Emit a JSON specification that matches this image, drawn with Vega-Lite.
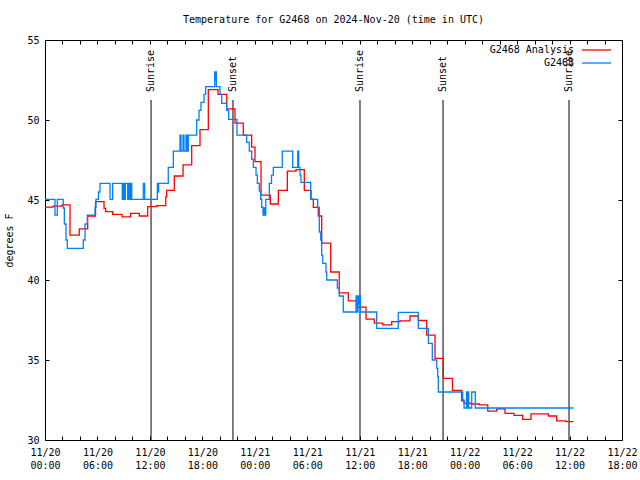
{
  "$schema": "https://vega.github.io/schema/vega-lite/v6.json",
  "width": 577,
  "height": 400,
  "autosize": "none",
  "padding": {"left": 45, "top": 40, "right": 18, "bottom": 40},
  "background": "white",
  "title": {"text": "Temperature for G2468 on 2024-Nov-20 (time in UTC)", "font": "DejaVu Sans Mono", "fontSize": 10, "fontWeight": "normal", "color": "black", "anchor": "middle", "offset": 10},
  "config": {
    "view": {"stroke": "black", "strokeWidth": 1},
    "axis": {"domain": false, "grid": false, "labelFont": "DejaVu Sans Mono", "labelFontSize": 10, "labelColor": "black", "tickColor": "black", "tickWidth": 1, "titleFont": "DejaVu Sans Mono", "titleFontSize": 10, "titleFontWeight": "normal", "titleColor": "black"}
  },
  "datasets": {
    "sun": [
      {"h": 12.13, "label": "Sunrise"},
      {"h": 21.5, "label": "Sunset"},
      {"h": 36.03, "label": "Sunrise"},
      {"h": 45.53, "label": "Sunset"},
      {"h": 59.94, "label": "Sunrise"}
    ],
    "analysis": [
      {"h": 0, "T": 44.55}, {"h": 0.92, "T": 44.62}, {"h": 1.94, "T": 44.7}, {"h": 2.86, "T": 42.8}, {"h": 3.92, "T": 43.2},
      {"h": 4.88, "T": 44.0}, {"h": 5.78, "T": 44.9}, {"h": 6.75, "T": 44.48}, {"h": 6.94, "T": 44.27}, {"h": 7.74, "T": 44.1},
      {"h": 8.81, "T": 43.95}, {"h": 9.8, "T": 44.17}, {"h": 10.79, "T": 44.0}, {"h": 11.75, "T": 44.58}, {"h": 12.78, "T": 44.65},
      {"h": 13.81, "T": 45.2}, {"h": 13.92, "T": 45.6}, {"h": 14.79, "T": 46.5}, {"h": 15.79, "T": 47.2}, {"h": 16.78, "T": 48.4},
      {"h": 17.73, "T": 49.4}, {"h": 18.68, "T": 51.9}, {"h": 19.79, "T": 51.6}, {"h": 20.79, "T": 50.7}, {"h": 21.73, "T": 49.8},
      {"h": 22.68, "T": 49.06}, {"h": 23.64, "T": 48.3}, {"h": 24.02, "T": 47.4}, {"h": 24.71, "T": 45.3}, {"h": 25.77, "T": 44.75},
      {"h": 26.69, "T": 45.6}, {"h": 27.72, "T": 46.8}, {"h": 28.71, "T": 46.9}, {"h": 29.66, "T": 45.6}, {"h": 30.43, "T": 45.06},
      {"h": 30.69, "T": 44.54}, {"h": 31.26, "T": 44.0}, {"h": 31.65, "T": 42.3}, {"h": 32.68, "T": 40.5}, {"h": 33.66, "T": 39.2},
      {"h": 34.69, "T": 38.7}, {"h": 35.63, "T": 38.3}, {"h": 36.72, "T": 37.55}, {"h": 37.67, "T": 37.3}, {"h": 38.63, "T": 37.2},
      {"h": 39.66, "T": 37.4}, {"h": 40.61, "T": 37.45}, {"h": 41.75, "T": 37.75}, {"h": 42.7, "T": 37.47}, {"h": 43.66, "T": 36.56},
      {"h": 44.61, "T": 35.1}, {"h": 45.56, "T": 33.85}, {"h": 46.61, "T": 33.1}, {"h": 47.66, "T": 32.45}, {"h": 47.93, "T": 32.3},
      {"h": 48.73, "T": 32.25}, {"h": 49.68, "T": 32.2}, {"h": 50.64, "T": 31.8}, {"h": 51.67, "T": 31.95}, {"h": 52.62, "T": 31.67},
      {"h": 53.65, "T": 31.54}, {"h": 54.64, "T": 31.29}, {"h": 55.59, "T": 31.63}, {"h": 57.57, "T": 31.5}, {"h": 58.53, "T": 31.2},
      {"h": 59.6, "T": 31.15}, {"h": 60.43, "T": 31.15}
    ],
    "obs": [
      {"h": 0, "T": 45.04}, {"h": 1.14, "T": 44.06}, {"h": 1.41, "T": 45.04}, {"h": 2.09, "T": 44.5}, {"h": 2.21, "T": 43.5},
      {"h": 2.4, "T": 42.5}, {"h": 2.55, "T": 41.98}, {"h": 4.38, "T": 42.5}, {"h": 4.58, "T": 43.5}, {"h": 4.84, "T": 44.06},
      {"h": 5.72, "T": 44.54}, {"h": 5.83, "T": 45.04}, {"h": 6.12, "T": 45.5}, {"h": 6.29, "T": 46.04}, {"h": 7.44, "T": 45.04},
      {"h": 7.74, "T": 46.04}, {"h": 8.84, "T": 45.04}, {"h": 8.96, "T": 46.04}, {"h": 9.09, "T": 45.04}, {"h": 9.19, "T": 46.04},
      {"h": 9.46, "T": 45.04}, {"h": 9.57, "T": 46.04}, {"h": 9.72, "T": 45.04}, {"h": 9.84, "T": 46.04}, {"h": 9.92, "T": 45.04},
      {"h": 11.24, "T": 46.04}, {"h": 11.4, "T": 45.04}, {"h": 12.85, "T": 46.04}, {"h": 12.93, "T": 45.5}, {"h": 13.0, "T": 46.04},
      {"h": 14.1, "T": 47.04}, {"h": 14.68, "T": 48.06}, {"h": 15.44, "T": 49.06}, {"h": 15.56, "T": 48.06}, {"h": 15.79, "T": 49.06},
      {"h": 15.9, "T": 48.06}, {"h": 16.13, "T": 49.06}, {"h": 16.24, "T": 48.06}, {"h": 16.39, "T": 49.06}, {"h": 17.35, "T": 50.0},
      {"h": 17.62, "T": 50.6}, {"h": 17.84, "T": 51.1}, {"h": 18.19, "T": 51.6}, {"h": 18.38, "T": 52.08}, {"h": 19.41, "T": 53.0},
      {"h": 19.48, "T": 52.5}, {"h": 19.53, "T": 53.0}, {"h": 19.6, "T": 52.08}, {"h": 20.02, "T": 51.6}, {"h": 20.21, "T": 51.04},
      {"h": 20.78, "T": 50.6}, {"h": 21.01, "T": 50.04}, {"h": 21.96, "T": 49.06}, {"h": 23.07, "T": 48.6}, {"h": 23.37, "T": 48.06},
      {"h": 23.64, "T": 47.55}, {"h": 23.83, "T": 47.04}, {"h": 24.14, "T": 46.56}, {"h": 24.29, "T": 46.04}, {"h": 24.51, "T": 45.56},
      {"h": 24.67, "T": 45.04}, {"h": 24.79, "T": 44.54}, {"h": 24.94, "T": 44.06}, {"h": 25.05, "T": 44.5}, {"h": 25.11, "T": 44.06},
      {"h": 25.25, "T": 45.04}, {"h": 25.66, "T": 46.04}, {"h": 25.91, "T": 46.56}, {"h": 26.12, "T": 47.04}, {"h": 27.14, "T": 48.06},
      {"h": 28.33, "T": 47.04}, {"h": 28.91, "T": 48.06}, {"h": 29.02, "T": 47.04}, {"h": 29.17, "T": 46.56}, {"h": 29.28, "T": 46.1},
      {"h": 30.39, "T": 45.04}, {"h": 31.19, "T": 44.54}, {"h": 31.38, "T": 43.0}, {"h": 31.54, "T": 42.5}, {"h": 31.65, "T": 41.56},
      {"h": 31.77, "T": 41.04}, {"h": 32.14, "T": 40.5}, {"h": 32.22, "T": 40.0}, {"h": 33.44, "T": 39.5}, {"h": 33.66, "T": 39.0},
      {"h": 34.12, "T": 38.0}, {"h": 35.58, "T": 39.0}, {"h": 35.69, "T": 38.0}, {"h": 35.8, "T": 39.0}, {"h": 35.92, "T": 38.5},
      {"h": 35.97, "T": 39.0}, {"h": 36.09, "T": 38.0}, {"h": 37.94, "T": 36.98}, {"h": 40.41, "T": 37.98}, {"h": 42.7, "T": 36.98},
      {"h": 43.85, "T": 36.04}, {"h": 44.3, "T": 35.0}, {"h": 44.81, "T": 34.48}, {"h": 44.92, "T": 33.96}, {"h": 44.99, "T": 33.0},
      {"h": 47.78, "T": 32.5}, {"h": 47.93, "T": 32.0}, {"h": 48.21, "T": 33.0}, {"h": 48.31, "T": 32.0}, {"h": 48.39, "T": 33.0},
      {"h": 48.47, "T": 32.0}, {"h": 48.81, "T": 33.0}, {"h": 49.22, "T": 32.0}, {"h": 60.43, "T": 32.0}
    ]
  },
  "layer": [
    {
      "data": {"name": "sun"},
      "mark": {"type": "rule", "color": "black", "strokeWidth": 1},
      "encoding": {
        "x": {"field": "h", "type": "quantitative", "scale": {"domain": [0, 66], "nice": false, "zero": false},
          "axis": {"orient": "bottom", "title": null, "values": [0,2,4,6,8,10,12,14,16,18,20,22,24,26,28,30,32,34,36,38,40,42,44,46,48,50,52,54,56,58,60,62,64,66],
            "tickSize": -4, "labelPadding": 11, "labelFlush": false, "labelOverlap": false, "labelBound": false, "labelLineHeight": 13,
            "labelExpr": "datum.value % 6 == 0 ? ['11/' + (20 + floor(datum.value / 24)), ((datum.value % 24) < 10 ? '0' : '') + (datum.value % 24) + ':00'] : ''"}},
        "y": {"datum": 51.25, "type": "quantitative", "scale": {"domain": [30, 55], "nice": false, "zero": false},
          "axis": {"orient": "left", "title": "degrees F", "values": [30, 35, 40, 45, 50, 55], "tickSize": -4, "labelPadding": 10, "titlePadding": 12}},
        "y2": {"datum": 30}
      }
    },
    {
      "data": {"name": "sun"},
      "mark": {"type": "text", "angle": 270, "align": "left", "baseline": "middle", "font": "DejaVu Sans Mono", "fontSize": 10, "color": "black"},
      "encoding": {
        "x": {"field": "h", "type": "quantitative",
          "axis": {"orient": "top", "title": null, "labels": false, "tickSize": -4, "values": [0,2,4,6,8,10,12,14,16,18,20,22,24,26,28,30,32,34,36,38,40,42,44,46,48,50,52,54,56,58,60,62,64,66]}},
        "y": {"datum": 51.75, "type": "quantitative",
          "axis": {"orient": "right", "title": null, "labels": false, "tickSize": -4, "values": [30, 35, 40, 45, 50, 55]}},
        "text": {"field": "label"}
      }
    },
    {
      "data": {"name": "analysis"},
      "mark": {"type": "line", "interpolate": "step-after", "strokeWidth": 1.3},
      "encoding": {
        "x": {"field": "h", "type": "quantitative", "axis": null},
        "y": {"field": "T", "type": "quantitative", "axis": null},
        "color": {"datum": "G2468 Analysis", "type": "nominal",
          "scale": {"domain": ["G2468 Analysis", "G2468"], "range": ["#ff0000", "#0080ff"]},
          "legend": {"title": null, "orient": "none", "legendX": 544.5, "legendY": 3, "padding": 0, "symbolType": "M-2.42,0H2.42", "symbolSize": 144, "symbolStrokeWidth": 1.3,
            "labelAlign": "right", "labelOffset": -29.5, "labelFont": "DejaVu Sans Mono", "labelFontSize": 10, "labelColor": "black", "rowPadding": 1}}
      }
    },
    {
      "data": {"name": "obs"},
      "mark": {"type": "line", "interpolate": "step-after", "strokeWidth": 1.3},
      "encoding": {
        "x": {"field": "h", "type": "quantitative", "axis": null},
        "y": {"field": "T", "type": "quantitative", "axis": null},
        "color": {"datum": "G2468", "type": "nominal"}
      }
    }
  ],
  "resolve": {"axis": {"x": "independent", "y": "independent"}}
}
